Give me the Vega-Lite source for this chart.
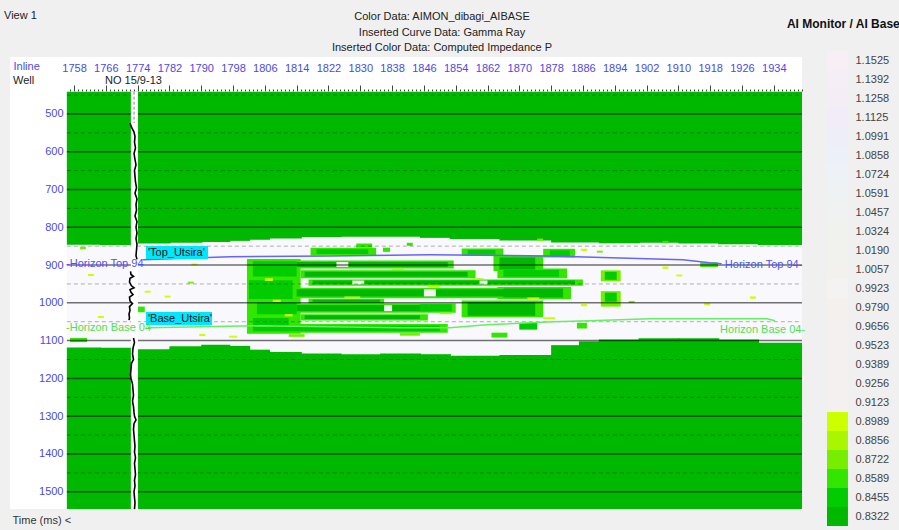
{
  "$schema": "https://vega.github.io/schema/vega-lite/v6.json",
  "width": 792,
  "height": 452,
  "autosize": {"type": "none"},
  "padding": {"left": 10, "top": 57, "right": 97, "bottom": 21},
  "background": "#f0f0f0",
  "config": {
    "view": {"stroke": null, "fill": "#ffffff"},
    "font": "Liberation Sans",
    "text": {"font": "Liberation Sans", "fontSize": 11}
  },
  "title": {
    "text": ["Color Data: AIMON_dibagi_AIBASE", "Inserted Curve Data: Gamma Ray", "Inserted Color Data: Computed Impedance P"],
    "anchor": "middle",
    "frame": "group",
    "font": "Liberation Sans",
    "fontSize": 11,
    "fontWeight": "normal",
    "color": "#222222",
    "lineHeight": 15.5,
    "dx": 36,
    "offset": -43
  },
  "datasets": {
    "panel": [{"x1": 1756.2, "x2": 1941.1, "t1": 441, "t2": 1546}],
    "cells": [
      {"x1": 1756.2, "x2": 1941.1, "t1": 441, "t2": 825, "v": "0.8322"},
      {"x1": 1756.2, "x2": 1764.8, "t1": 823, "t2": 846, "v": "0.8322"},
      {"x1": 1764.5, "x2": 1772.8, "t1": 823, "t2": 847, "v": "0.8322"},
      {"x1": 1772.5, "x2": 1782.3, "t1": 823, "t2": 843, "v": "0.8322"},
      {"x1": 1782, "x2": 1790.3, "t1": 823, "t2": 841, "v": "0.8322"},
      {"x1": 1790, "x2": 1797.3, "t1": 823, "t2": 839, "v": "0.8322"},
      {"x1": 1797, "x2": 1802.3, "t1": 823, "t2": 836, "v": "0.8322"},
      {"x1": 1802, "x2": 1807.3, "t1": 823, "t2": 833, "v": "0.8322"},
      {"x1": 1807, "x2": 1815.3, "t1": 823, "t2": 830, "v": "0.8322"},
      {"x1": 1815, "x2": 1825.3, "t1": 823, "t2": 826, "v": "0.8322"},
      {"x1": 1845, "x2": 1852.8, "t1": 823, "t2": 828, "v": "0.8322"},
      {"x1": 1852.5, "x2": 1865.3, "t1": 823, "t2": 831, "v": "0.8322"},
      {"x1": 1865, "x2": 1878.3, "t1": 823, "t2": 835, "v": "0.8322"},
      {"x1": 1878, "x2": 1890.3, "t1": 823, "t2": 840, "v": "0.8322"},
      {"x1": 1890, "x2": 1900.3, "t1": 823, "t2": 842, "v": "0.8322"},
      {"x1": 1900, "x2": 1910.3, "t1": 823, "t2": 841, "v": "0.8322"},
      {"x1": 1910, "x2": 1920.3, "t1": 823, "t2": 843, "v": "0.8322"},
      {"x1": 1920, "x2": 1930.3, "t1": 823, "t2": 845, "v": "0.8322"},
      {"x1": 1930, "x2": 1941.1, "t1": 823, "t2": 847, "v": "0.8322"},
      {"x1": 1756.2, "x2": 1941.1, "t1": 1140, "t2": 1546, "v": "0.8322"},
      {"x1": 1756.2, "x2": 1764.8, "t1": 1118, "t2": 1142, "v": "0.8322"},
      {"x1": 1764.5, "x2": 1772.8, "t1": 1119, "t2": 1142, "v": "0.8322"},
      {"x1": 1772.5, "x2": 1782.3, "t1": 1123, "t2": 1142, "v": "0.8322"},
      {"x1": 1782, "x2": 1790.3, "t1": 1115, "t2": 1142, "v": "0.8322"},
      {"x1": 1790, "x2": 1797.3, "t1": 1111, "t2": 1142, "v": "0.8322"},
      {"x1": 1797, "x2": 1802.3, "t1": 1114, "t2": 1142, "v": "0.8322"},
      {"x1": 1802, "x2": 1807.3, "t1": 1124, "t2": 1142, "v": "0.8322"},
      {"x1": 1807, "x2": 1815.3, "t1": 1130, "t2": 1142, "v": "0.8322"},
      {"x1": 1815, "x2": 1825.3, "t1": 1134, "t2": 1142, "v": "0.8322"},
      {"x1": 1825, "x2": 1835.3, "t1": 1136, "t2": 1142, "v": "0.8322"},
      {"x1": 1835, "x2": 1845.3, "t1": 1134, "t2": 1142, "v": "0.8322"},
      {"x1": 1845, "x2": 1852.8, "t1": 1136, "t2": 1142, "v": "0.8322"},
      {"x1": 1865, "x2": 1878.3, "t1": 1138, "t2": 1142, "v": "0.8322"},
      {"x1": 1878, "x2": 1885.3, "t1": 1112, "t2": 1142, "v": "0.8322"},
      {"x1": 1885, "x2": 1890.3, "t1": 1102, "t2": 1142, "v": "0.8322"},
      {"x1": 1890, "x2": 1900.3, "t1": 1097, "t2": 1142, "v": "0.8322"},
      {"x1": 1900, "x2": 1910.3, "t1": 1094, "t2": 1142, "v": "0.8322"},
      {"x1": 1910, "x2": 1920.3, "t1": 1094, "t2": 1142, "v": "0.8322"},
      {"x1": 1920, "x2": 1930.3, "t1": 1097, "t2": 1142, "v": "0.8322"},
      {"x1": 1930, "x2": 1941.1, "t1": 1106, "t2": 1142, "v": "0.8322"},

      {"x1": 1801.5, "x2": 1815, "t1": 884, "t2": 1082, "v": "0.8589"},
      {"x1": 1813, "x2": 1853.5, "t1": 888, "t2": 909, "v": "0.8589"},
      {"x1": 1815, "x2": 1859, "t1": 914, "t2": 935, "v": "0.8589"},
      {"x1": 1817, "x2": 1886, "t1": 938, "t2": 955, "v": "0.8589"},
      {"x1": 1813, "x2": 1874, "t1": 960, "t2": 988, "v": "0.8589"},
      {"x1": 1817, "x2": 1836, "t1": 989, "t2": 1002, "v": "0.8589"},
      {"x1": 1813, "x2": 1854, "t1": 1002, "t2": 1026, "v": "0.8589"},
      {"x1": 1855.5, "x2": 1876, "t1": 994, "t2": 1038, "v": "0.8589"},
      {"x1": 1815, "x2": 1847, "t1": 1030, "t2": 1047, "v": "0.8589"},
      {"x1": 1809, "x2": 1852, "t1": 1056, "t2": 1079, "v": "0.8589"},
      {"x1": 1863.5, "x2": 1876, "t1": 876, "t2": 916, "v": "0.8589"},
      {"x1": 1864.5, "x2": 1882, "t1": 909, "t2": 935, "v": "0.8589"},
      {"x1": 1855.5, "x2": 1866, "t1": 856, "t2": 876, "v": "0.8589"},
      {"x1": 1864.5, "x2": 1883, "t1": 958, "t2": 990, "v": "0.8589"},
      {"x1": 1817.5, "x2": 1834, "t1": 854, "t2": 875, "v": "0.8589"},
      {"x1": 1876, "x2": 1884, "t1": 857, "t2": 880, "v": "0.8589"},
      {"x1": 1890.5, "x2": 1895.5, "t1": 914, "t2": 943, "v": "0.8722"},
      {"x1": 1890.5, "x2": 1895.5, "t1": 969, "t2": 1010, "v": "0.8722"},

      {"x1": 1803, "x2": 1814, "t1": 890, "t2": 930, "v": "0.8455"},
      {"x1": 1802, "x2": 1813, "t1": 940, "t2": 990, "v": "0.8455"},
      {"x1": 1804, "x2": 1814, "t1": 998, "t2": 1030, "v": "0.8455"},
      {"x1": 1803, "x2": 1812, "t1": 1040, "t2": 1075, "v": "0.8455"},
      {"x1": 1814, "x2": 1852, "t1": 892, "t2": 905, "v": "0.8322"},
      {"x1": 1816, "x2": 1857, "t1": 918, "t2": 931, "v": "0.8322"},
      {"x1": 1818, "x2": 1884, "t1": 941, "t2": 951, "v": "0.8322"},
      {"x1": 1814, "x2": 1872, "t1": 964, "t2": 983, "v": "0.8322"},
      {"x1": 1818, "x2": 1835, "t1": 992, "t2": 999, "v": "0.8322"},
      {"x1": 1814, "x2": 1848, "t1": 1006, "t2": 1022, "v": "0.8322"},
      {"x1": 1845, "x2": 1853, "t1": 1004, "t2": 1022, "v": "0.8455"},
      {"x1": 1857, "x2": 1874, "t1": 998, "t2": 1034, "v": "0.8322"},
      {"x1": 1816, "x2": 1845, "t1": 1033, "t2": 1043, "v": "0.8322"},
      {"x1": 1810, "x2": 1850, "t1": 1060, "t2": 1075, "v": "0.8455"},
      {"x1": 1865, "x2": 1874, "t1": 880, "t2": 912, "v": "0.8322"},
      {"x1": 1866, "x2": 1880, "t1": 913, "t2": 931, "v": "0.8455"},
      {"x1": 1857, "x2": 1864, "t1": 860, "t2": 872, "v": "0.8455"},
      {"x1": 1866, "x2": 1881, "t1": 962, "t2": 986, "v": "0.8322"},
      {"x1": 1819, "x2": 1832, "t1": 858, "t2": 871, "v": "0.8455"},
      {"x1": 1877.7, "x2": 1882.7, "t1": 861, "t2": 877, "v": "0.8455"},
      {"x1": 1870, "x2": 1874.5, "t1": 1053, "t2": 1071, "v": "0.8455"},
      {"x1": 1884.5, "x2": 1887, "t1": 1053, "t2": 1068, "v": "0.8589"},
      {"x1": 1863, "x2": 1867, "t1": 1079, "t2": 1092, "v": "0.8589"},
      {"x1": 1891.5, "x2": 1894.5, "t1": 918, "t2": 939, "v": "0.8455"},
      {"x1": 1891.5, "x2": 1894.5, "t1": 973, "t2": 997, "v": "0.8455"},
      {"x1": 1829, "x2": 1833, "t1": 843, "t2": 854, "v": "0.8589"},

      {"x1": 1828, "x2": 1831, "t1": 941, "t2": 951, "v": "0.9923"},
      {"x1": 1860, "x2": 1862, "t1": 941, "t2": 951, "v": "0.9923"},
      {"x1": 1836, "x2": 1838, "t1": 1006, "t2": 1022, "v": "0.9923"},
      {"x1": 1824, "x2": 1827, "t1": 892, "t2": 905, "v": "0.9923"},
      {"x1": 1846, "x2": 1849, "t1": 964, "t2": 983, "v": "0.9923"},

      {"x1": 1806, "x2": 1808, "t1": 935, "t2": 942, "v": "0.8989"},
      {"x1": 1808, "x2": 1810, "t1": 992, "t2": 998, "v": "0.8989"},
      {"x1": 1811, "x2": 1813, "t1": 1030, "t2": 1036, "v": "0.8989"},
      {"x1": 1847, "x2": 1850, "t1": 955, "t2": 960, "v": "0.8989"},
      {"x1": 1872, "x2": 1875, "t1": 986, "t2": 992, "v": "0.8989"},
      {"x1": 1876, "x2": 1879, "t1": 1038, "t2": 1043, "v": "0.8989"},
      {"x1": 1838, "x2": 1841, "t1": 909, "t2": 913, "v": "0.8856"},
      {"x1": 1858, "x2": 1861, "t1": 935, "t2": 939, "v": "0.8856"},
      {"x1": 1826, "x2": 1830, "t1": 983, "t2": 988, "v": "0.8856"},
      {"x1": 1850, "x2": 1853, "t1": 1026, "t2": 1030, "v": "0.8856"},

      {"x1": 1759.5, "x2": 1761, "t1": 852, "t2": 858, "v": "0.8722"},
      {"x1": 1761.5, "x2": 1763, "t1": 924, "t2": 929, "v": "0.8989"},
      {"x1": 1775.8, "x2": 1777.3, "t1": 968, "t2": 973, "v": "0.8989"},
      {"x1": 1780.8, "x2": 1782.3, "t1": 981, "t2": 986, "v": "0.8989"},
      {"x1": 1786.6, "x2": 1788.1, "t1": 944, "t2": 949, "v": "0.8722"},
      {"x1": 1787.5, "x2": 1789, "t1": 896, "t2": 901, "v": "0.8989"},
      {"x1": 1764, "x2": 1765.5, "t1": 1035, "t2": 1040, "v": "0.8989"},
      {"x1": 1757, "x2": 1761.3, "t1": 1093, "t2": 1104, "v": "0.8589"},
      {"x1": 1773.8, "x2": 1775.8, "t1": 1010, "t2": 1025, "v": "0.8589"},
      {"x1": 1789.5, "x2": 1791, "t1": 1082, "t2": 1088, "v": "0.8989"},
      {"x1": 1874.5, "x2": 1876, "t1": 830, "t2": 836, "v": "0.8722"},
      {"x1": 1885.5, "x2": 1887, "t1": 857, "t2": 863, "v": "0.8989"},
      {"x1": 1889.5, "x2": 1891, "t1": 862, "t2": 867, "v": "0.8722"},
      {"x1": 1906, "x2": 1907.5, "t1": 836, "t2": 842, "v": "0.8589"},
      {"x1": 1906, "x2": 1907.5, "t1": 904, "t2": 910, "v": "0.8989"},
      {"x1": 1909.5, "x2": 1911, "t1": 925, "t2": 930, "v": "0.8989"},
      {"x1": 1915.5, "x2": 1920, "t1": 893, "t2": 905, "v": "0.8589"},
      {"x1": 1916.5, "x2": 1918, "t1": 1000, "t2": 1006, "v": "0.8989"},
      {"x1": 1928, "x2": 1929.5, "t1": 983, "t2": 989, "v": "0.8989"},
      {"x1": 1885.5, "x2": 1887, "t1": 1003, "t2": 1009, "v": "0.8989"},
      {"x1": 1897.5, "x2": 1899, "t1": 995, "t2": 1000, "v": "0.8722"},
      {"x1": 1797, "x2": 1799, "t1": 1087, "t2": 1092, "v": "0.8989"},
      {"x1": 1812, "x2": 1816, "t1": 1083, "t2": 1090, "v": "0.8722"},
      {"x1": 1840, "x2": 1845, "t1": 1080, "t2": 1087, "v": "0.8722"},
      {"x1": 1835.7, "x2": 1837.5, "t1": 854, "t2": 865, "v": "0.8589"},
      {"x1": 1841.7, "x2": 1843.2, "t1": 841, "t2": 849, "v": "0.8589"}
    ],
    "major": [{"t": 500}, {"t": 600}, {"t": 700}, {"t": 800}, {"t": 900}, {"t": 1000}, {"t": 1100}, {"t": 1200}, {"t": 1300}, {"t": 1400}, {"t": 1500}],
    "minor": [{"t": 450}, {"t": 550}, {"t": 650}, {"t": 750}, {"t": 850}, {"t": 950}, {"t": 1050}, {"t": 1150}, {"t": 1250}, {"t": 1350}, {"t": 1450}],
    "strip": [{"x1": 1772.3, "x2": 1774.1, "t1": 441, "t2": 1546}],
    "wellpath": [{"x": 1773.1, "t1": 441, "t2": 524}],
    "well": [
      {"seg": "a", "t": 524, "g": 1772.08}, {"seg": "a", "t": 535, "g": 1772.46}, {"seg": "a", "t": 548, "g": 1773.09},
      {"seg": "a", "t": 560, "g": 1773.34}, {"seg": "a", "t": 575, "g": 1773.21}, {"seg": "a", "t": 590, "g": 1773.46},
      {"seg": "a", "t": 605, "g": 1773.09}, {"seg": "a", "t": 620, "g": 1773.34}, {"seg": "a", "t": 635, "g": 1773.59},
      {"seg": "a", "t": 650, "g": 1773.21}, {"seg": "a", "t": 665, "g": 1773.34}, {"seg": "a", "t": 680, "g": 1773.46},
      {"seg": "a", "t": 695, "g": 1773.72}, {"seg": "a", "t": 710, "g": 1773.34}, {"seg": "a", "t": 725, "g": 1773.84},
      {"seg": "a", "t": 740, "g": 1773.59}, {"seg": "a", "t": 755, "g": 1773.72}, {"seg": "a", "t": 770, "g": 1773.34},
      {"seg": "a", "t": 785, "g": 1773.84}, {"seg": "a", "t": 800, "g": 1773.59}, {"seg": "a", "t": 815, "g": 1773.84},
      {"seg": "a", "t": 830, "g": 1773.59}, {"seg": "a", "t": 845, "g": 1773.84}, {"seg": "a", "t": 860, "g": 1773.72},
      {"seg": "a", "t": 875, "g": 1773.59}, {"seg": "a", "t": 885, "g": 1773.84},
      {"seg": "b", "t": 917, "g": 1772.21}, {"seg": "b", "t": 925, "g": 1772.33}, {"seg": "b", "t": 930, "g": 1772.96},
      {"seg": "b", "t": 935, "g": 1772.08}, {"seg": "b", "t": 945, "g": 1771.95}, {"seg": "b", "t": 955, "g": 1772.46},
      {"seg": "b", "t": 960, "g": 1773.09}, {"seg": "b", "t": 965, "g": 1772.08}, {"seg": "b", "t": 972, "g": 1772.33},
      {"seg": "b", "t": 978, "g": 1772.84}, {"seg": "b", "t": 985, "g": 1771.95}, {"seg": "b", "t": 995, "g": 1772.08},
      {"seg": "b", "t": 1002, "g": 1772.71}, {"seg": "b", "t": 1010, "g": 1771.95}, {"seg": "b", "t": 1020, "g": 1772.08},
      {"seg": "b", "t": 1030, "g": 1771.83}, {"seg": "b", "t": 1040, "g": 1771.95}, {"seg": "b", "t": 1046, "g": 1771.83},
      {"seg": "c", "t": 1093, "g": 1772.96}, {"seg": "c", "t": 1105, "g": 1773.21}, {"seg": "c", "t": 1120, "g": 1772.84},
      {"seg": "c", "t": 1135, "g": 1772.71}, {"seg": "c", "t": 1150, "g": 1772.96}, {"seg": "c", "t": 1160, "g": 1772.46},
      {"seg": "c", "t": 1175, "g": 1772.33}, {"seg": "c", "t": 1190, "g": 1772.21}, {"seg": "c", "t": 1200, "g": 1772.33},
      {"seg": "c", "t": 1215, "g": 1772.71}, {"seg": "c", "t": 1230, "g": 1772.84}, {"seg": "c", "t": 1245, "g": 1772.96},
      {"seg": "c", "t": 1260, "g": 1772.71}, {"seg": "c", "t": 1275, "g": 1772.96}, {"seg": "c", "t": 1290, "g": 1773.09},
      {"seg": "c", "t": 1300, "g": 1773.21}, {"seg": "c", "t": 1310, "g": 1773.59}, {"seg": "c", "t": 1320, "g": 1773.09},
      {"seg": "c", "t": 1335, "g": 1772.96}, {"seg": "c", "t": 1350, "g": 1773.09}, {"seg": "c", "t": 1365, "g": 1773.21},
      {"seg": "c", "t": 1380, "g": 1773.34}, {"seg": "c", "t": 1395, "g": 1773.21}, {"seg": "c", "t": 1410, "g": 1773.46},
      {"seg": "c", "t": 1425, "g": 1773.21}, {"seg": "c", "t": 1440, "g": 1773.34}, {"seg": "c", "t": 1455, "g": 1773.46},
      {"seg": "c", "t": 1470, "g": 1773.21}, {"seg": "c", "t": 1485, "g": 1773.34}, {"seg": "c", "t": 1500, "g": 1773.09},
      {"seg": "c", "t": 1515, "g": 1773.21}, {"seg": "c", "t": 1530, "g": 1773.34}, {"seg": "c", "t": 1546, "g": 1773.21}
    ],
    "horizons": [
      {"h": "top", "x": 1775.3, "t": 886}, {"h": "top", "x": 1797.2, "t": 878.3}, {"h": "top", "x": 1822.4, "t": 875.7},
      {"h": "top", "x": 1847.5, "t": 873}, {"h": "top", "x": 1877.7, "t": 875.7}, {"h": "top", "x": 1895.3, "t": 881},
      {"h": "top", "x": 1911.1, "t": 886.2}, {"h": "top", "x": 1917.9, "t": 894.2}, {"h": "top", "x": 1920.9, "t": 896.8},
      {"h": "base", "x": 1776.6, "t": 1066}, {"h": "base", "x": 1789.7, "t": 1063.5}, {"h": "base", "x": 1804.8, "t": 1060.8},
      {"h": "base", "x": 1822.4, "t": 1063.5}, {"h": "base", "x": 1840, "t": 1066}, {"h": "base", "x": 1852.5, "t": 1066},
      {"h": "base", "x": 1861.8, "t": 1058}, {"h": "base", "x": 1878.4, "t": 1050}, {"h": "base", "x": 1887.7, "t": 1047.6},
      {"h": "base", "x": 1902.8, "t": 1042.3}, {"h": "base", "x": 1915.4, "t": 1042.3}, {"h": "base", "x": 1932.3, "t": 1042.3},
      {"h": "base", "x": 1934.3, "t": 1047.6}
    ],
    "tops": [
      {"x1": 1776.1, "x2": 1791.7, "t1": 849.6, "t2": 884, "tx": 1776.6, "tt": 867, "label": "'Top_Utsira'"},
      {"x1": 1776.1, "x2": 1792.7, "t1": 1024.3, "t2": 1058.8, "tx": 1776.6, "tt": 1041.5, "label": "'Base_Utsira'"}
    ],
    "hlabels": [
      {"h": "top", "x": 1756.0, "t": 897, "label": "-Horizon Top 94"},
      {"h": "top", "x": 1921.7, "t": 899, "label": "Horizon Top 94-"},
      {"h": "base", "x": 1756.0, "t": 1066, "label": "-Horizon Base 04"},
      {"h": "base", "x": 1920.5, "t": 1071, "label": "Horizon Base 04-"}
    ],
    "notes": [
      {"x": 1740.4, "t": 240.7, "label": "View 1"},
      {"x": 1742.65, "t": 412.7, "label": "Well"},
      {"x": 1765.8, "t": 412.7, "label": "NO 15/9-13"}
    ],
    "bold": [{"x": 1937.3, "t": 262, "label": "AI Monitor / AI Base"}]
  },
  "layer": [
    {
      "data": {"name": "panel"},
      "mark": {"type": "rect", "fill": "#f9f9fd"},
      "encoding": {
        "x": {
          "field": "x1", "type": "quantitative",
          "scale": {"domain": [1741.9, 1941.1], "nice": false, "zero": false},
          "axis": {
            "orient": "top", "offset": -34, "domain": false, "grid": false,
            "tickCount": 200, "format": "d", "tickColor": "#444444", "tickWidth": 1,
            "tickSize": {"condition": {"test": "(datum.value - 1758) % 8 == 0", "value": 6}, "value": 2},
            "tickOpacity": {"condition": {"test": "datum.value < 1757", "value": 0}, "value": 1},
            "labelExpr": "datum.value >= 1758 && (datum.value - 1758) % 8 == 0 && datum.value < 1940 ? datum.label : ''",
            "labelOverlap": false, "labelFlush": false, "labelPadding": 12,
            "labelColor": "#4a4ae6", "labelFontSize": 11, "labelFont": "Liberation Sans",
            "title": "Inline", "titleColor": "#4a4ae6", "titleFontWeight": "normal", "titleFontSize": 11,
            "titleFont": "Liberation Sans", "titleAlign": "left", "titleBaseline": "middle", "titleAngle": 0,
            "titleX": 3, "titleY": -25
          }
        },
        "x2": {"field": "x2"},
        "y": {
          "field": "t1", "type": "quantitative",
          "scale": {"domain": [349.2, 1545.8], "reverse": true, "nice": false, "zero": false},
          "axis": {
            "orient": "left", "offset": -57, "domain": false, "grid": false, "ticks": false,
            "values": [500, 600, 700, 800, 900, 1000, 1100, 1200, 1300, 1400, 1500],
            "format": "d", "labelPadding": 4, "labelColor": "#4a4ae6", "labelFontSize": 11, "labelFont": "Liberation Sans",
            "title": "Time (ms) <", "titleAngle": 0, "titleAlign": "left", "titleBaseline": "middle",
            "titleX": -55, "titleY": 463, "titleColor": "#333333", "titleFontWeight": "normal", "titleFontSize": 11,
            "titleFont": "Liberation Sans"
          }
        },
        "y2": {"field": "t2"}
      }
    },
    {
      "data": {"name": "cells"},
      "mark": {"type": "rect"},
      "encoding": {
        "x": {"field": "x1", "type": "quantitative", "scale": {"domain": [1741.9, 1941.1], "nice": false, "zero": false}},
        "x2": {"field": "x2"},
        "y": {"field": "t1", "type": "quantitative", "scale": {"domain": [349.2, 1545.8], "reverse": true, "nice": false, "zero": false}},
        "y2": {"field": "t2"},
        "color": {
          "field": "v", "type": "nominal",
          "scale": {
            "domain": ["1.1525", "1.1392", "1.1258", "1.1125", "1.0991", "1.0858", "1.0724", "1.0591", "1.0457", "1.0324", "1.0190", "1.0057", "0.9923", "0.9790", "0.9656", "0.9523", "0.9389", "0.9256", "0.9123", "0.8989", "0.8856", "0.8722", "0.8589", "0.8455", "0.8322"],
            "range": ["#f7eef6", "#f6eef6", "#f4edf6", "#f1ecf7", "#edeef8", "#ecf0f8", "#ecf2f6", "#eef2f2", "#eff2f0", "#f0f2ee", "#f1f1ee", "#f2f1ee", "#f5f3f2", "#f3f0ee", "#f3f0ef", "#f3f0ef", "#f3f0ef", "#f3f0ef", "#f3f0ef", "#ccff00", "#aaf500", "#77ee00", "#33e600", "#00cc00", "#00b800"]
          },
          "legend": {
            "orient": "none", "legendX": 817, "legendY": -6, "title": null,
            "symbolType": "M-1.24,-1.1H1.24V1.1H-1.24Z", "symbolSize": 342, "symbolStrokeWidth": 0, "symbolOpacity": 1,
            "clipHeight": 19,
            "labelFontSize": 11, "labelFont": "Liberation Sans", "labelColor": "#444444", "labelOffset": 9.5,
            "rowPadding": 0, "padding": 0
          }
        }
      }
    },
    {
      "data": {"name": "minor"},
      "mark": {"type": "rule", "color": "#000000", "opacity": 0.3, "strokeWidth": 1, "strokeDash": [4, 3]},
      "encoding": {
        "y": {"field": "t", "type": "quantitative", "scale": {"domain": [349.2, 1545.8], "reverse": true, "nice": false, "zero": false}},
        "x": {"datum": 1756.2, "type": "quantitative", "scale": {"domain": [1741.9, 1941.1], "nice": false, "zero": false}},
        "x2": {"datum": 1941.1}
      }
    },
    {
      "data": {"name": "major"},
      "mark": {"type": "rule", "color": "#000000", "opacity": 0.55, "strokeWidth": 1.5},
      "encoding": {
        "y": {"field": "t", "type": "quantitative", "scale": {"domain": [349.2, 1545.8], "reverse": true, "nice": false, "zero": false}},
        "x": {"datum": 1756.2, "type": "quantitative", "scale": {"domain": [1741.9, 1941.1], "nice": false, "zero": false}},
        "x2": {"datum": 1941.1}
      }
    },
    {
      "data": {"name": "strip"},
      "mark": {"type": "rect", "fill": "#ffffff"},
      "encoding": {
        "x": {"field": "x1", "type": "quantitative", "scale": {"domain": [1741.9, 1941.1], "nice": false, "zero": false}},
        "x2": {"field": "x2"},
        "y": {"field": "t1", "type": "quantitative", "scale": {"domain": [349.2, 1545.8], "reverse": true, "nice": false, "zero": false}},
        "y2": {"field": "t2"}
      }
    },
    {
      "data": {"name": "wellpath"},
      "mark": {"type": "rule", "color": "#888888", "strokeWidth": 1, "strokeDash": [3, 2]},
      "encoding": {
        "x": {"field": "x", "type": "quantitative", "scale": {"domain": [1741.9, 1941.1], "nice": false, "zero": false}},
        "y": {"field": "t1", "type": "quantitative", "scale": {"domain": [349.2, 1545.8], "reverse": true, "nice": false, "zero": false}},
        "y2": {"field": "t2"}
      }
    },
    {
      "data": {"name": "well"},
      "mark": {"type": "line", "color": "#000000", "strokeWidth": 1.6},
      "encoding": {
        "x": {"field": "g", "type": "quantitative", "scale": {"domain": [1741.9, 1941.1], "nice": false, "zero": false}},
        "y": {"field": "t", "type": "quantitative", "scale": {"domain": [349.2, 1545.8], "reverse": true, "nice": false, "zero": false}},
        "detail": {"field": "seg", "type": "nominal"},
        "order": {"field": "t", "type": "quantitative"}
      }
    },
    {
      "data": {"name": "horizons"},
      "transform": [{"filter": "datum.h == 'top'"}],
      "mark": {"type": "line", "color": "#6464ff", "strokeWidth": 1.5},
      "encoding": {
        "x": {"field": "x", "type": "quantitative", "scale": {"domain": [1741.9, 1941.1], "nice": false, "zero": false}},
        "y": {"field": "t", "type": "quantitative", "scale": {"domain": [349.2, 1545.8], "reverse": true, "nice": false, "zero": false}}
      }
    },
    {
      "data": {"name": "horizons"},
      "transform": [{"filter": "datum.h == 'base'"}],
      "mark": {"type": "line", "color": "#66ee66", "strokeWidth": 1.5},
      "encoding": {
        "x": {"field": "x", "type": "quantitative", "scale": {"domain": [1741.9, 1941.1], "nice": false, "zero": false}},
        "y": {"field": "t", "type": "quantitative", "scale": {"domain": [349.2, 1545.8], "reverse": true, "nice": false, "zero": false}}
      }
    },
    {
      "data": {"name": "tops"},
      "mark": {"type": "rect", "fill": "#00e6ff"},
      "encoding": {
        "x": {"field": "x1", "type": "quantitative", "scale": {"domain": [1741.9, 1941.1], "nice": false, "zero": false}},
        "x2": {"field": "x2"},
        "y": {"field": "t1", "type": "quantitative", "scale": {"domain": [349.2, 1545.8], "reverse": true, "nice": false, "zero": false}},
        "y2": {"field": "t2"}
      }
    },
    {
      "data": {"name": "tops"},
      "mark": {"type": "text", "align": "left", "baseline": "middle", "color": "#111111", "fontSize": 11, "font": "Liberation Sans"},
      "encoding": {
        "x": {"field": "tx", "type": "quantitative", "scale": {"domain": [1741.9, 1941.1], "nice": false, "zero": false}},
        "y": {"field": "tt", "type": "quantitative", "scale": {"domain": [349.2, 1545.8], "reverse": true, "nice": false, "zero": false}},
        "text": {"field": "label"}
      }
    },
    {
      "data": {"name": "hlabels"},
      "transform": [{"filter": "datum.h == 'top'"}],
      "mark": {"type": "text", "align": "left", "baseline": "middle", "color": "#5050ff", "fontSize": 11, "font": "Liberation Sans"},
      "encoding": {
        "x": {"field": "x", "type": "quantitative", "scale": {"domain": [1741.9, 1941.1], "nice": false, "zero": false}},
        "y": {"field": "t", "type": "quantitative", "scale": {"domain": [349.2, 1545.8], "reverse": true, "nice": false, "zero": false}},
        "text": {"field": "label"}
      }
    },
    {
      "data": {"name": "hlabels"},
      "transform": [{"filter": "datum.h == 'base'"}],
      "mark": {"type": "text", "align": "left", "baseline": "middle", "color": "#4ee04e", "fontSize": 11, "font": "Liberation Sans"},
      "encoding": {
        "x": {"field": "x", "type": "quantitative", "scale": {"domain": [1741.9, 1941.1], "nice": false, "zero": false}},
        "y": {"field": "t", "type": "quantitative", "scale": {"domain": [349.2, 1545.8], "reverse": true, "nice": false, "zero": false}},
        "text": {"field": "label"}
      }
    },
    {
      "data": {"name": "notes"},
      "mark": {"type": "text", "align": "left", "baseline": "middle", "color": "#222222", "fontSize": 11, "font": "Liberation Sans"},
      "encoding": {
        "x": {"field": "x", "type": "quantitative", "scale": {"domain": [1741.9, 1941.1], "nice": false, "zero": false}},
        "y": {"field": "t", "type": "quantitative", "scale": {"domain": [349.2, 1545.8], "reverse": true, "nice": false, "zero": false}},
        "text": {"field": "label"}
      }
    },
    {
      "data": {"name": "bold"},
      "mark": {"type": "text", "align": "left", "baseline": "middle", "color": "#111111", "fontSize": 12, "fontWeight": "bold", "font": "Liberation Sans"},
      "encoding": {
        "x": {"field": "x", "type": "quantitative", "scale": {"domain": [1741.9, 1941.1], "nice": false, "zero": false}},
        "y": {"field": "t", "type": "quantitative", "scale": {"domain": [349.2, 1545.8], "reverse": true, "nice": false, "zero": false}},
        "text": {"field": "label"}
      }
    }
  ]
}
